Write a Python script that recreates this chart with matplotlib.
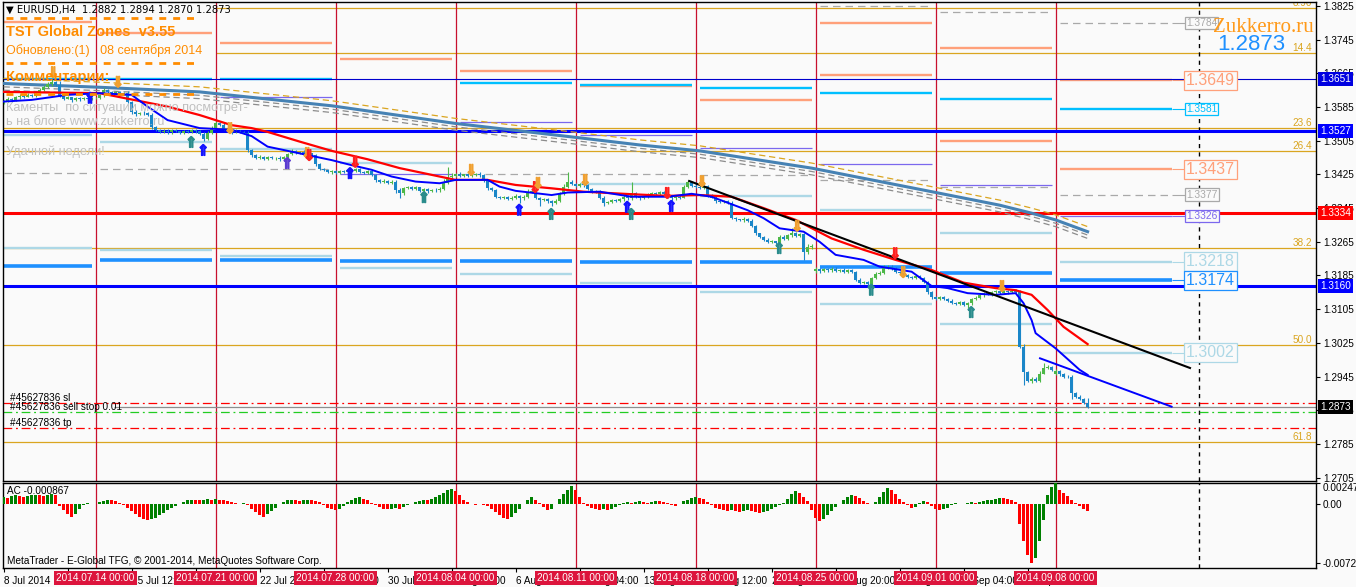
import matplotlib
matplotlib.use("Agg")
import matplotlib.pyplot as plt
from matplotlib.lines import Line2D
import numpy as np

W, H, DPI = 1356, 587, 100
BG = "#fafafa"
plt.rcParams["font.family"] = ["Liberation Sans", "DejaVu Sans"]

# ---------------- EURUSD H4, bar 0 = 2014.07.08 04:00 ----------------
closes = [
    # 8 - 11 Jul
    1.3598, 1.3604, 1.3601, 1.3608, 1.3612, 1.3610, 1.3614, 1.3611, 1.3618, 1.3626,
    1.3633, 1.3639, 1.3645, 1.3638, 1.3612, 1.3605, 1.3608, 1.3602, 1.3606, 1.3603,
    1.3607, 1.3604, 1.3606,
    # 14 Jul
    1.3606, 1.3613, 1.3626, 1.3621, 1.3617, 1.3620, 1.3616, 1.3618, 1.3597, 1.3574,
    1.3568, 1.3572, 1.3570, 1.3566, 1.3538, 1.3530, 1.3526, 1.3529, 1.3525, 1.3530,
    1.3527, 1.3524, 1.3528, 1.3526, 1.3530, 1.3527, 1.3522, 1.3510, 1.3524, 1.3535,
    # 21 Jul
    1.3547, 1.3543, 1.3532, 1.3528, 1.3525, 1.3529, 1.3526, 1.3524, 1.3483, 1.3470,
    1.3464, 1.3467, 1.3462, 1.3466, 1.3463, 1.3465, 1.3461, 1.3466, 1.3474, 1.3480,
    1.3476, 1.3478, 1.3472, 1.3475, 1.3470, 1.3450, 1.3438, 1.3436, 1.3430, 1.3432,
    # 28 Jul
    1.3428, 1.3433, 1.3431, 1.3436, 1.3434, 1.3437, 1.3431, 1.3429, 1.3432, 1.3424,
    1.3412, 1.3407, 1.3410, 1.3405, 1.3408, 1.3388, 1.3380, 1.3392, 1.3395, 1.3391,
    1.3394, 1.3386, 1.3390, 1.3385, 1.3389, 1.3387, 1.3391, 1.3405, 1.3418, 1.3422,
    # 4 Aug
    1.3426, 1.3422, 1.3425, 1.3421, 1.3424, 1.3427, 1.3423, 1.3410, 1.3392, 1.3388,
    1.3372, 1.3369, 1.3371, 1.3367, 1.3370, 1.3374, 1.3368, 1.3372, 1.3384, 1.3386,
    1.3370, 1.3364, 1.3366, 1.3361, 1.3358, 1.3362, 1.3378, 1.3395, 1.3407, 1.3402,
    # 11 Aug
    1.3398, 1.3402, 1.3399, 1.3390, 1.3383, 1.3385, 1.3370, 1.3357, 1.3360, 1.3364,
    1.3362, 1.3366, 1.3372, 1.3368, 1.3380, 1.3372, 1.3368, 1.3371, 1.3376, 1.3381,
    1.3378, 1.3383, 1.3379, 1.3372, 1.3368, 1.3372, 1.3370, 1.3395, 1.3407, 1.3398,
    # 18 Aug
    1.3396, 1.3393, 1.3397, 1.3375, 1.3370, 1.3361, 1.3359, 1.3362, 1.3358, 1.3322,
    1.3318, 1.3316, 1.3320, 1.3315, 1.3303, 1.3285, 1.3276, 1.3270, 1.3264, 1.3266,
    1.3262, 1.3276, 1.3272, 1.3280, 1.3285, 1.3279, 1.3284, 1.3240, 1.3252, 1.3256,
    # 25 Aug
    1.3200, 1.3195, 1.3200, 1.3197, 1.3201, 1.3196, 1.3199, 1.3194, 1.3198, 1.3193,
    1.3175, 1.3167, 1.3170, 1.3165, 1.3178, 1.3188, 1.3192, 1.3203, 1.3206, 1.3201,
    1.3194, 1.3190, 1.3186, 1.3182, 1.3179, 1.3183, 1.3180, 1.3170, 1.3145, 1.3133,
    # 1 Sep
    1.3130, 1.3134, 1.3128, 1.3125, 1.3120, 1.3117, 1.3121, 1.3116, 1.3119, 1.3128,
    1.3132, 1.3138, 1.3143, 1.3140, 1.3145, 1.3147, 1.3144, 1.3148, 1.3145, 1.3149,
    1.3146, 1.3015, 1.2955, 1.2935, 1.2940, 1.2934, 1.2952, 1.2965, 1.2968, 1.2960,
    # 8 Sep
    1.2957, 1.2950, 1.2945, 1.2944, 1.2906, 1.2896, 1.2892, 1.2882, 1.2873,
]
first_open = 1.3596
gap_opens = {203: 1.3196, 263: 1.2952}

# wick lengths in pips
up_wick = [
    3, 4, 2, 4, 3, 3, 4, 3, 5, 4, 4, 5, 6, 3, 8, 3, 3, 2, 4, 3, 3, 2, 3,
    3, 4, 5, 3, 2, 4, 3, 3, 4, 3, 4, 2, 3, 3, 5, 3, 2, 3, 3, 4, 3, 2, 3, 3, 4, 2, 3, 4, 3, 5,
    4, 3, 3, 2, 3, 3, 2, 3, 3, 2, 3, 4, 2, 3, 3, 2, 3, 3, 3, 5, 3, 3, 6, 3, 2, 4, 3, 3, 2, 3,
    3, 2, 3, 3, 2, 4, 3, 2, 3, 3, 2, 3, 3, 2, 3, 3, 4, 3, 2, 3, 3, 2, 3, 3, 2, 3, 3, 8, 24, 6,
    3, 4, 2, 3, 3, 2, 3, 3, 2, 3, 3, 2, 3, 2, 3, 4, 3, 3, 6, 3, 3, 2, 3, 2, 3, 4, 5, 8, 24, 4,
    3, 3, 2, 3, 3, 2, 4, 3, 3, 3, 2, 3, 4, 3, 28, 3, 2, 3, 4, 3, 3, 2, 3, 3, 2, 3, 3, 6, 4, 3,
    8, 3, 3, 2, 3, 3, 2, 3, 2, 3, 3, 2, 3, 2, 3, 3, 2, 3, 3, 3, 2, 4, 6, 3, 13, 4, 3, 2, 8, 3,
    6, 3, 3, 2, 3, 3, 2, 3, 3, 2, 3, 3, 2, 3, 4, 5, 4, 6, 4, 3, 3, 2, 3, 3, 2, 3, 3, 2, 3, 3,
    3, 3, 2, 3, 3, 2, 3, 3, 2, 3, 4, 3, 3, 3, 4, 4, 3, 3, 3, 5, 3, 4, 7, 4, 3, 3, 6, 12, 5, 3,
    5, 4, 3, 3, 5, 3, 4, 3, 12,
]
down_wick = [
    3, 2, 3, 2, 3, 4, 2, 3, 2, 3, 3, 2, 3, 3, 4, 3, 2, 4, 3, 3, 2, 3, 3,
    3, 2, 3, 4, 3, 2, 3, 3, 3, 5, 4, 3, 3, 2, 4, 3, 3, 2, 3, 3, 2, 3, 3, 2, 3, 3, 3, 5, 3, 2,
    3, 3, 2, 3, 3, 2, 3, 3, 4, 3, 3, 2, 3, 3, 2, 3, 3, 2, 3, 3, 2, 3, 3, 2, 3, 4, 3, 3, 2, 3,
    3, 2, 3, 2, 3, 3, 2, 3, 3, 2, 4, 3, 2, 3, 3, 6, 11, 3, 2, 3, 3, 2, 3, 3, 2, 3, 3, 2, 3, 3,
    3, 2, 3, 3, 2, 3, 3, 3, 4, 3, 3, 3, 2, 3, 3, 4, 12, 3, 3, 2, 3, 15, 3, 3, 8, 3, 2, 3, 3, 3,
    3, 2, 3, 3, 3, 2, 4, 6, 3, 3, 2, 3, 3, 4, 3, 3, 3, 2, 3, 3, 2, 3, 3, 4, 6, 3, 3, 2, 3, 3,
    3, 2, 3, 3, 2, 3, 2, 3, 3, 4, 3, 2, 3, 3, 3, 4, 3, 3, 3, 3, 2, 3, 2, 3, 3, 3, 3, 18, 3, 3,
    4, 3, 2, 3, 3, 2, 3, 3, 2, 3, 4, 3, 3, 7, 3, 2, 3, 3, 2, 3, 3, 2, 3, 3, 2, 3, 3, 3, 3, 4,
    3, 3, 2, 4, 3, 3, 2, 3, 8, 3, 2, 3, 3, 2, 3, 3, 2, 3, 3, 2, 3, 3, 30, 4, 5, 3, 3, 2, 3, 3,
    3, 3, 3, 3, 15, 3, 3, 3, 3,
]

# Accelerator Oscillator, units of 1e-4
ac_values = [
    8, 7, 9, 10, 9, 8, 9, 10, 11, 10, 9, 11, 12, 10, -3, -8, -13, -16, -12, -6, -2, 1, -1,
    0, 2, 3, 4, 4, 3, 1, -2, -5, -9, -13, -16, -19, -20, -19, -17, -14, -11, -8, -5, -3, -1,
    2, 4, 5, 5, 4, 5, 6, 5,
    6, 5, 4, 3, 2, 1, 0, 1, -2, -6, -10, -14, -16, -13, -9, -5, -1, 2, 4, 5, 4, 3, 4, 5, 4,
    3, 2, -2, -5, -7,
    -8, -6, -3, 2, 5, 7, 8, 6, 4, 1, -2, -4, -6, -7, -6, -5, -6, -4, -2, 0, 2, 3, 5, 4, 6,
    8, 10, 13, 16, 18,
    15, 10, 5, 2, -1, -2, -1, -2, -3, -6, -10, -14, -18, -19, -16, -11, -6, -1, 4, 8, 5, 1,
    -4, -8, -6, -1, 6, 12, 17, 21,
    16, 8, 1, -3, -5, -7, -8, -7, -8, -6, -4, -2, 1, 2, 1, 2, 3, 2, 1, 2, 3, 3, 2, 1, -2,
    -3, -1, 3, 5, 7,
    8, 7, 6, 2, -2, -5, -7, -8, -9, -8, -9, -10, -9, -8, -9, -10, -11, -10, -9, -7, -4, -2,
    1, 6, 12, 15, 13, 8, 3, -8,
    -17, -21, -19, -14, -9, -4, 0, 4, 8, 10, 9, 7, 3, 1, -1, 2, 8, 14, 19, 17, 12, 6, 2, -2,
    -5, -4, 1, 3, 2, -3,
    -6, -8, -7, -5, -2, 1, 0, -1, 1, 2, 1, 2, 3, 4, 5, 6, 7, 7, 6, 5, 2, -25, -45, -62,
    -72.2, -66, -45, -20, 10, 20,
    24.73, 17, 13, 9, 5, 1, -3, -6, -8.67,
]

# moving averages (bar, price)
red_ma_bars = [0, 24, 32, 41, 49, 57, 62, 66, 74, 82, 91, 99, 107, 113, 121, 128, 137, 145,
               157, 166, 174, 182, 190, 198, 207, 215, 223, 232, 240, 248, 253, 257, 261, 265, 271]
red_ma_vals = [1.3621, 1.3618, 1.3603, 1.3586, 1.3566, 1.3542, 1.3535, 1.3526, 1.3503, 1.3481,
               1.3461, 1.3440, 1.3424, 1.3412, 1.3412, 1.3400, 1.3392, 1.3384, 1.3378, 1.3374,
               1.3376, 1.3372, 1.3345, 1.3317, 1.3273, 1.3246, 1.3222, 1.3198, 1.3168, 1.3155,
               1.3150, 1.3139, 1.3103, 1.3063, 1.3022]
blue_ma_bars = [0, 7, 16, 24, 32, 36, 41, 49, 57, 62, 66, 70, 74, 78, 82, 87, 92, 97, 103, 109,
                113, 121, 124, 128, 137, 141, 149, 157, 166, 172, 177, 186, 190, 194, 200, 204,
                208, 215, 219, 227, 232, 236, 241, 248, 253, 255, 257, 258, 263, 269, 271]
blue_ma_vals = [1.3598, 1.3602, 1.3614, 1.3618, 1.3614, 1.3586, 1.3554, 1.3535, 1.3531, 1.3516,
                1.3491, 1.3483, 1.3475, 1.3467, 1.3459, 1.3447, 1.3436, 1.3420, 1.3408, 1.3404,
                1.3412, 1.3412, 1.3396, 1.3386, 1.3376, 1.3382, 1.3384, 1.3372, 1.3372, 1.3379,
                1.3372, 1.3340, 1.3321, 1.3297, 1.3289, 1.3265, 1.3234, 1.3222, 1.3206, 1.3194,
                1.3160, 1.3155, 1.3143, 1.3139, 1.3143, 1.3119, 1.3079, 1.3048, 1.3012, 1.2961,
                1.2949]
slow_ma_bars = [0, 24, 49, 64, 82, 113, 143, 159, 174, 189, 202, 217, 232, 249, 257, 263, 271]
slow_ma_vals = [1.3641, 1.3632, 1.3621, 1.3606, 1.3588, 1.3546, 1.3513, 1.3495, 1.3481, 1.3459,
                1.3440, 1.3412, 1.3384, 1.3352, 1.3333, 1.3317, 1.3289]
slow_band_upper = 0.0012
slow_band_lower = [0.0008, 0.0016]

# trend lines
trend_black_bars = [171.4, 296.6]
trend_black_vals = [1.34094, 1.29653]
trend_blue_bars = [259.1, 292.0]
trend_blue_vals = [1.29883, 1.28734]

# signal arrows
up_arrow_bars = [21.6, 46.9, 49.9, 70.9, 86.6, 105.1, 128.9, 136.9, 155.9, 156.9, 166.9,
                 193.9, 216.9, 241.9]
up_arrow_prices = [1.3607, 1.3502, 1.3483, 1.3452, 1.3428, 1.3371, 1.3341, 1.3331, 1.3348,
                   1.3331, 1.3350, 1.3250, 1.3151, 1.3098]
up_arrow_colors = ["#1414ff", "#2a8c8c", "#1414ff", "#5a3cd0", "#1414ff", "#2a8c8c", "#1414ff",
                   "#2a8c8c", "#1414ff", "#2a8c8c", "#1414ff", "#2a8c8c", "#2a8c8c", "#2a8c8c"]
down_arrow_bars = [12.4, 28.6, 56.6, 75.9, 76.4, 87.9, 116.9, 132.9, 133.6, 145.4, 165.9,
                   174.6, 198.4, 222.9, 224.9, 249.6]
down_arrow_prices = [1.3668, 1.3645, 1.3535, 1.3476, 1.3471, 1.3455, 1.3436, 1.3395, 1.3405,
                     1.3412, 1.3381, 1.3409, 1.3303, 1.3238, 1.3193, 1.3160]
down_arrow_colors = ["#f0a030", "#f0a030", "#f0a030", "#f0a030", "#ff2020", "#ff2020",
                     "#f0a030", "#ff2020", "#f0a030", "#f0a030", "#ff2020", "#f0a030",
                     "#f0a030", "#ff2020", "#f0a030", "#f0a030"]

# weekly zones (one list per week column)
salmon_levels = [[1.3787], [1.3761], [1.3738], [1.3699], [1.3671], [1.3634], [1.3602],
                 [1.3785, 1.3662], [1.3726, 1.3505], [1.3649, 1.3437]]
cyan_levels = [[1.3652], [1.3652], [1.3652], [], [1.3643], [1.3637], [1.3631], [1.3619],
               [1.3603], [1.3581]]
lightblue_levels = [[1.3519, 1.3251], [1.3503, 1.3246], [1.3485, 1.3231], [1.3453, 1.3203],
                    [1.3189], [1.3402, 1.3168], [1.3374, 1.3146], [1.3340, 1.3117],
                    [1.3287, 1.3070], [1.3218, 1.3002]]
dodger_levels = [[1.3207], [1.3222], [1.3221], [1.3219], [1.3219], [1.3216], [1.3216],
                 [1.3204], [1.3190], [1.3174]]
purple_levels = [[], [], [1.3610], [1.3426], [1.3549], [1.3519], [1.3487], [1.3450],
                 [1.3399], [1.3326]]
grey_levels = [[1.3428], [1.3437], [1.3437], [], [1.3426], [1.3426], [1.3424],
               [1.3825, 1.3412], [1.3810, 1.3396], [1.3784, 1.3377]]

# last-week zone tags
tag_levels = [1.3784, 1.3649, 1.3581, 1.3437, 1.3377, 1.3326, 1.3218, 1.3174, 1.3002]
tag_colors = ["#a9a9a9", "#ffa07a", "#00bfff", "#ffa07a", "#a9a9a9", "#7b68ee", "#add8e6",
              "#1e90ff", "#add8e6"]
tag_big = [False, True, False, True, False, False, True, True, True]

# fibonacci levels
fib_levels = [1.3820, 1.3713, 1.3535, 1.3481, 1.3250, 1.3019, 1.2789]
fib_labels = ["8.90", "14.4", "23.6", "26.4", "38.2", "50.0", "61.8"]
fib_start = [53, 53, None, None, None, None, None]

# full width levels
h_levels = [1.3651, 1.3527, 1.3334, 1.3160]
h_colors = ["#0000cd", "#0000ff", "#ff0000", "#0000ff"]
h_widths = [0.8, 2.2, 2.2, 2.2]

# order lines
bid = 1.2873
order_sl, order_open, order_tp = 1.28814, 1.28600, 1.28220

week_dates = ["2014.07.14", "2014.07.21", "2014.07.28", "2014.08.04", "2014.08.11",
              "2014.08.18", "2014.08.25", "2014.09.01", "2014.09.08"]
time_ticks = list(range(0, 257, 16))
time_labels = ["8 Jul 2014", "10 Jul 20:00", "15 Jul 12:00", "18 Jul 04:00", "22 Jul 20:00",
               "25 Jul 12:00", "30 Jul 04:00", "1 Aug 20:00", "6 Aug 12:00", "11 Aug 04:00",
               "13 Aug 20:00", "18 Aug 12:00", "21 Aug 04:00", "25 Aug 20:00", "28 Aug 12:00",
               "2 Sep 04:00", "4 Sep 20:00"]
price_ticks = [1.3825 - 0.008 * k for k in range(15)]

# ---------------- derived ----------------
n = len(closes)
x = np.arange(n)
c = np.array(closes)
o = np.array([first_open] + closes[:-1])
for k, v in gap_opens.items():
    o[k] = v
hi = np.maximum(o, c) + np.array(up_wick) * 1e-4
lo = np.minimum(o, c) - np.array(down_wick) * 1e-4
sep_bars = np.arange(23, 264, 30)
shift_bar = 298.85


def px_rect(l, t, r, b):
    return [l / W, 1 - b / H, (r - l) / W, (b - t) / H]


fig = plt.figure(figsize=(W / DPI, H / DPI), dpi=DPI, facecolor=BG)
ax = fig.add_axes(px_rect(3, 2, 1316, 481), facecolor=BG)
ax_ac = fig.add_axes(px_rect(3, 483, 1316, 568), facecolor=BG)
XLIM = (-0.15, 328.1)
ax.set_xlim(*XLIM)
ax.set_ylim(1.2696875, 1.38345)
ax_ac.set_xlim(*XLIM)
ax_ac.set_ylim(-0.0078, 0.0025)

xmax = XLIM[1]

# fibo
for lev, lab, st in zip(fib_levels, fib_labels, fib_start):
    ax.hlines(lev, st if st is not None else XLIM[0], xmax, color="#daa520", lw=0.9, zorder=1)
    ax.text(0.997, lev, lab, transform=ax.get_yaxis_transform(), ha="right", va="bottom",
            color="#daa520", fontsize=7.2, clip_on=True, zorder=1)

# separators and shift line
for a in (ax, ax_ac):
    for s in sep_bars:
        a.axvline(s, color="#c8102e", lw=0.9, zorder=1)
    a.axvline(shift_bar, color="black", lw=1, ls=(0, (3, 3)), zorder=1)

# weekly zones
col_start = [0] + [s + 1 for s in sep_bars]
col_end = [s - 1 for s in sep_bars] + [292]
zone_styles = [
    (salmon_levels, "#ffa07a", 1.7, "-"),
    (cyan_levels, "#00bfff", 1.7, "-"),
    (lightblue_levels, "#add8e6", 1.7, "-"),
    (dodger_levels, "#1e90ff", 2.6, "-"),
    (purple_levels, "#7b68ee", 0.9, "-"),
    (grey_levels, "#a9a9a9", 0.9, (0, (6, 4))),
]
for levels, colr, lw, ls in zone_styles:
    for k, levs in enumerate(levels):
        for lev in levs:
            ax.hlines(lev, col_start[k], col_end[k], color=colr, lw=lw, linestyles=ls, zorder=2)

# tags for last week
for lev, colr, big in zip(tag_levels, tag_colors, tag_big):
    ax.hlines(lev, 292, 295.6, color=colr, lw=0.8, zorder=2)
    ax.text(295.6, lev, f"{lev:.4f}", ha="left", va="center", color=colr,
            fontsize=11.5 if big else 7.4, zorder=6,
            bbox=dict(boxstyle="square,pad=0.12", fc=BG, ec=colr, lw=0.9))

# full width lines
for lev, colr, lw in zip(h_levels, h_colors, h_widths):
    ax.axhline(lev, color=colr, lw=lw, zorder=2)

# slow MA with envelope
ax.plot(slow_ma_bars, np.array(slow_ma_vals) + slow_band_upper, color="#daa520", lw=0.9,
        ls=(0, (5, 3)), zorder=3)
for off in slow_band_lower:
    ax.plot(slow_ma_bars, np.array(slow_ma_vals) - off, color="#8c8c8c", lw=0.9,
            ls=(0, (5, 3)), zorder=3)
ax.plot(slow_ma_bars, slow_ma_vals, color="#4682b4", lw=2.2, zorder=3)

# order lines
ax.axhline(order_sl, color="#ff0000", lw=0.9, ls=(0, (7, 3, 1.5, 3)), zorder=2)
ax.axhline(order_open, color="#22cc22", lw=0.9, ls=(0, (7, 3, 1.5, 3)), zorder=2)
ax.axhline(order_tp, color="#ff0000", lw=0.9, ls=(0, (7, 3, 1.5, 3)), zorder=2)
ax.hlines(bid, 27.5, xmax, color="#8c8c8c", lw=0.9, zorder=2)
ax.text(1.5, order_sl, "#45627836 sl", fontsize=7.2, va="bottom", zorder=6)
ax.text(1.5, order_open, "#45627836 sell stop 0.01", fontsize=7.2, va="bottom", zorder=6)
ax.text(1.5, order_tp, "#45627836 tp", fontsize=7.2, va="bottom", zorder=6)

# candles
bull = c >= o
ccol = np.where(bull, "#4db848", "#1a86c8")
ax.vlines(x, lo, hi, colors=ccol, lw=0.8, zorder=4)
ax.bar(x, np.maximum(np.abs(c - o), 0.00004), bottom=np.minimum(o, c), width=0.62,
       color=ccol, zorder=4)

# moving averages and trend lines
ax.plot(red_ma_bars, red_ma_vals, color="#ff0000", lw=1.6, zorder=5)
ax.plot(blue_ma_bars, blue_ma_vals, color="#0000ff", lw=1.4, zorder=5)
ax.plot(trend_black_bars, trend_black_vals, color="black", lw=1.5, zorder=5)
ax.plot(trend_blue_bars, trend_blue_vals, color="#0000ff", lw=1.4, zorder=5)

# arrows
ax.scatter(up_arrow_bars, up_arrow_prices, marker=r"$\Uparrow$", s=60, c=up_arrow_colors,
           zorder=6)
ax.scatter(down_arrow_bars, down_arrow_prices, marker=r"$\Downarrow$", s=60,
           c=down_arrow_colors, zorder=6)

# right price axis
ax.yaxis.tick_right()
ax.set_yticks(price_ticks)
ax.set_yticklabels([f"{v:.4f}" for v in price_ticks])
ax.tick_params(axis="y", length=3, width=0.8, labelsize=7.2, pad=2)
ax.set_xticks([])
tag_axis = [(1.3651, "#0000e0"), (1.3527, "#0000ff"), (1.3334, "#ff0000"),
            (1.3160, "#0000ff"), (bid, "#000000")]
for lev, colr in tag_axis:
    ax.annotate(f"{lev:.4f}", xy=(1, lev), xycoords=ax.get_yaxis_transform(),
                xytext=(3, 0), textcoords="offset points", ha="left", va="center",
                color="white", fontsize=7.2, annotation_clip=False, zorder=10,
                bbox=dict(boxstyle="square,pad=0.2", fc=colr, ec="none"))

for a in (ax, ax_ac):
    for sp in a.spines.values():
        sp.set_color("black")
        sp.set_linewidth(1)

# AC panel
ac = np.array(ac_values) * 1e-4
ac_col = ["#008000" if i == 0 or ac[i] > ac[i - 1] else "#ff0000" for i in range(n)]
ax_ac.bar(x, ac, width=0.72, color=ac_col, zorder=3)
ax_ac.yaxis.tick_right()
ax_ac.set_yticks([0.002473, 0.0, -0.00722])
ax_ac.set_yticklabels(["0.002473", "0.00", "-0.00722"])
ax_ac.tick_params(axis="y", length=3, width=0.8, labelsize=7.2, pad=2)
ax_ac.get_yticklabels()[0].set_va("top")
ax_ac.text(0.003, 0.9, f"AC {ac_values[-1] * 1e-4:.6f}", transform=ax_ac.transAxes,
           fontsize=7.2, va="center")
ax_ac.text(0.003, 0.08, "MetaTrader - E-Global TFG, \u00a9 2001-2014, MetaQuotes Software Corp.",
           transform=ax_ac.transAxes, fontsize=7.2, va="center")

ax_ac.set_xticks(time_ticks)
ax_ac.set_xticklabels(time_labels, ha="left")
ax_ac.tick_params(axis="x", length=3, width=0.8, labelsize=7.2, pad=3)
for s, d in zip(sep_bars, week_dates):
    ax_ac.annotate(f"{d} 00:00", xy=(s, 0), xycoords=("data", "axes fraction"),
                   xytext=(0, -7.4), textcoords="offset points", ha="center", va="center",
                   color="white", fontsize=7.2, annotation_clip=False, zorder=10,
                   bbox=dict(boxstyle="square,pad=0.22", fc="#dc143c", ec="none"))


# ---------------- text block (top-left) ----------------
def fpt(px, py):
    return px / W, 1 - py / H


ORANGE = "#ff8c00"
fig.text(*fpt(6, 10), "\u25bc EURUSD,H4  1.2882 1.2894 1.2870 1.2873", fontsize=7.2,
         va="center", family=["DejaVu Sans"])
fig.text(*fpt(6, 32), "TST Global Zones  v3.55", fontsize=10.5, fontweight="bold",
         color=ORANGE, va="center")
fig.text(*fpt(6, 51), "Обновлено:(1)   08 сентября 2014", fontsize=9, color=ORANGE,
         va="center")
fig.text(*fpt(6, 77), "Комментарии:", fontsize=10.5, fontweight="bold", color=ORANGE,
         va="center")
fig.text(*fpt(6, 108), "Каменты  по ситуации можно посмотрет-", fontsize=9.2,
         color="#c0c0c0", va="center")
fig.text(*fpt(6, 122), "ь на блоге www.zukkerro.ru", fontsize=9.2, color="#c0c0c0",
         va="center")
fig.text(*fpt(6, 152), "Удачной недели!", fontsize=9.2, color="#c0c0c0", va="center")
for yy in (18, 63, 94):
    fig.add_artist(Line2D([6 / W, 195 / W], [1 - yy / H] * 2, transform=fig.transFigure,
                          color=ORANGE, lw=2, ls=(0, (2.5, 2.5))))

fig.text(*fpt(1314, 27), "Zukkerro.ru", fontsize=15, family=["Liberation Serif"],
         color="#ff9a1a", ha="right", va="center")
fig.text(*fpt(1285, 44), "1.2873", fontsize=16, color="#1e90ff", ha="right", va="center")

fig.savefig("out.png", dpi=DPI, facecolor=BG)
